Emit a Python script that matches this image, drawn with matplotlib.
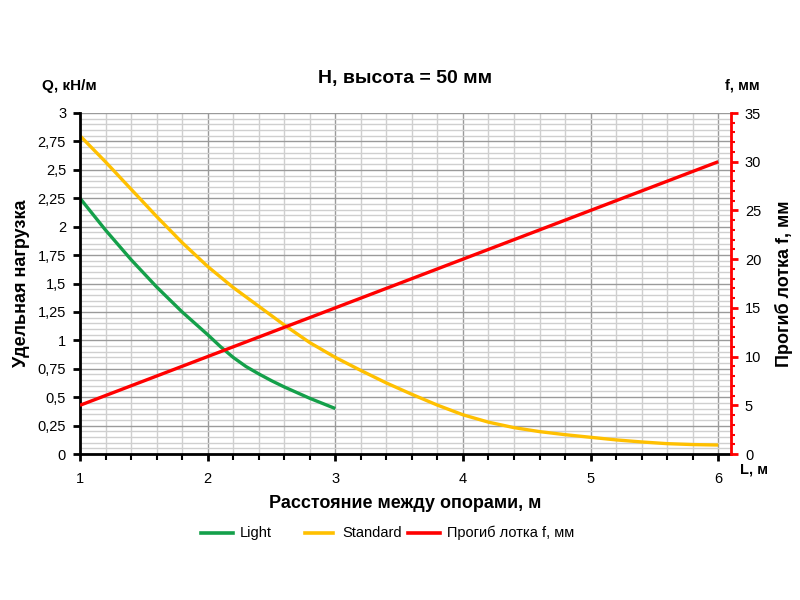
import matplotlib
matplotlib.use("Agg")
import matplotlib.pyplot as plt
from matplotlib.ticker import MultipleLocator, FuncFormatter
from matplotlib.lines import Line2D

plt.rcParams['font.family'] = ['Liberation Sans', 'DejaVu Sans']

# Data
L_light = [1.0, 1.2, 1.4, 1.6, 1.8, 2.0, 2.1, 2.2, 2.3, 2.4, 2.5, 2.6, 2.8, 3.0]
Q_light = [2.25, 1.97, 1.71, 1.47, 1.25, 1.05, 0.945, 0.85, 0.77, 0.705, 0.645, 0.59, 0.49, 0.40]

L_std = [1.0, 1.2, 1.4, 1.6, 1.8, 2.0, 2.2, 2.4, 2.6, 2.8, 3.0,
         3.2, 3.4, 3.6, 3.8, 4.0, 4.2, 4.4, 4.6, 4.8, 5.0,
         5.2, 5.4, 5.6, 5.8, 6.0]
Q_std = [2.80, 2.57, 2.33, 2.09, 1.86, 1.65, 1.465, 1.30, 1.135, 0.98, 0.85,
         0.735, 0.625, 0.525, 0.43, 0.345, 0.28, 0.232, 0.197, 0.17, 0.147,
         0.124, 0.106, 0.091, 0.083, 0.079]

L_f = [1, 2, 3, 4, 5, 6]
f_vals = [5, 10, 15, 20, 25, 30]

legend_labels = ['Light', 'Standard', 'Прогиб лотка f, мм']

c_light = '#14A04A'
c_std = '#FFC000'
c_red = '#FF0000'

W, H = 800, 600
fig = plt.figure(figsize=(8, 6), dpi=100)
ax = fig.add_axes([80 / W, 1 - 454 / H, 651 / W, 341 / H])
ax2 = ax.twinx()

ax.set_xlim(1, 6.1)
ax.set_ylim(0, 3)
ax2.set_ylim(0, 35)

ax.xaxis.set_major_locator(MultipleLocator(1))
ax.xaxis.set_minor_locator(MultipleLocator(0.2))
ax.yaxis.set_major_locator(MultipleLocator(0.25))
ax.yaxis.set_minor_locator(MultipleLocator(0.05))
ax2.yaxis.set_major_locator(MultipleLocator(5))
ax2.yaxis.set_minor_locator(MultipleLocator(1))

def comma_fmt(v, pos):
    s = ('%.2f' % v).rstrip('0').rstrip('.')
    return s.replace('.', ',')
ax.yaxis.set_major_formatter(FuncFormatter(comma_fmt))

ax.grid(which='minor', color='#cfcfcf', linewidth=1.0)
ax.grid(which='major', color='#9a9a9a', linewidth=1.0)
ax.set_axisbelow(True)

ax.spines['top'].set_visible(False)
ax2.spines['top'].set_visible(False)
ax.spines['right'].set_visible(False)
ax2.spines['left'].set_visible(False)
ax2.spines['bottom'].set_visible(False)
ax.spines['left'].set_linewidth(2)
ax.spines['bottom'].set_linewidth(2)
ax2.spines['right'].set_linewidth(2)
ax2.spines['right'].set_color(c_red)

ax.tick_params(axis='y', which='major', direction='out', length=5, width=2, labelsize=10.5, pad=5)
ax.tick_params(axis='y', which='minor', length=0)
ax.tick_params(axis='x', which='major', direction='out', length=5, width=2, labelsize=10.5, pad=8)
ax.tick_params(axis='x', which='minor', direction='out', length=4, width=1.5)
ax2.tick_params(axis='y', which='major', direction='out', length=5, width=2, color=c_red, labelsize=10.5, pad=5)
ax2.tick_params(axis='y', which='minor', direction='out', length=3, width=1.5, color=c_red)

ax.plot(L_light, Q_light, color=c_light, linewidth=2.4, solid_capstyle='butt', solid_joinstyle='round')
ax.plot(L_std, Q_std, color=c_std, linewidth=2.4, solid_capstyle='butt', solid_joinstyle='round')
ax2.plot(L_f, f_vals, color=c_red, linewidth=2.4, solid_capstyle='butt')

fig.text(405 / W, 1 - 78 / H, 'H, высота = 50 мм', fontsize=14, fontweight='bold', ha='center', va='center')
ax.set_xlabel('Расстояние между опорами, м', fontsize=13, fontweight='bold')
ax.xaxis.set_label_coords(0.5, (454 - 495) / 341)
ax.set_ylabel('Удельная нагрузка', fontsize=13, fontweight='bold')
ax.yaxis.set_label_coords((30 - 80) / 651, 0.5)
ax2.set_ylabel('Прогиб лотка f, мм', fontsize=13, fontweight='bold')
ax2.yaxis.set_label_coords((775 - 80) / 651, 0.5)

fig.text(42 / W, 1 - 86 / H, 'Q, кН/м', fontsize=11, fontweight='bold', va='center', ha='left')
fig.text(725 / W, 1 - 85 / H, 'f, мм', fontsize=10.5, fontweight='bold', va='center', ha='left')
fig.text(740 / W, 1 - 470 / H, 'L, м', fontsize=10.5, fontweight='bold', va='center', ha='left')

# manual legend
leg_y = 1 - 533 / H
leg_items = [((201, 233, 240), c_light), ((305, 333, 342), c_std), ((408, 440, 447), c_red)]
for i, ((x0, x1, xt), col) in enumerate(leg_items):
    fig.add_artist(Line2D([x0 / W, x1 / W], [leg_y, leg_y], color=col, linewidth=2.6,
                          transform=fig.transFigure))
    fig.text(xt / W, leg_y, legend_labels[i], fontsize=10.5, va='center', ha='left')

fig.savefig('out.png', dpi=100)
